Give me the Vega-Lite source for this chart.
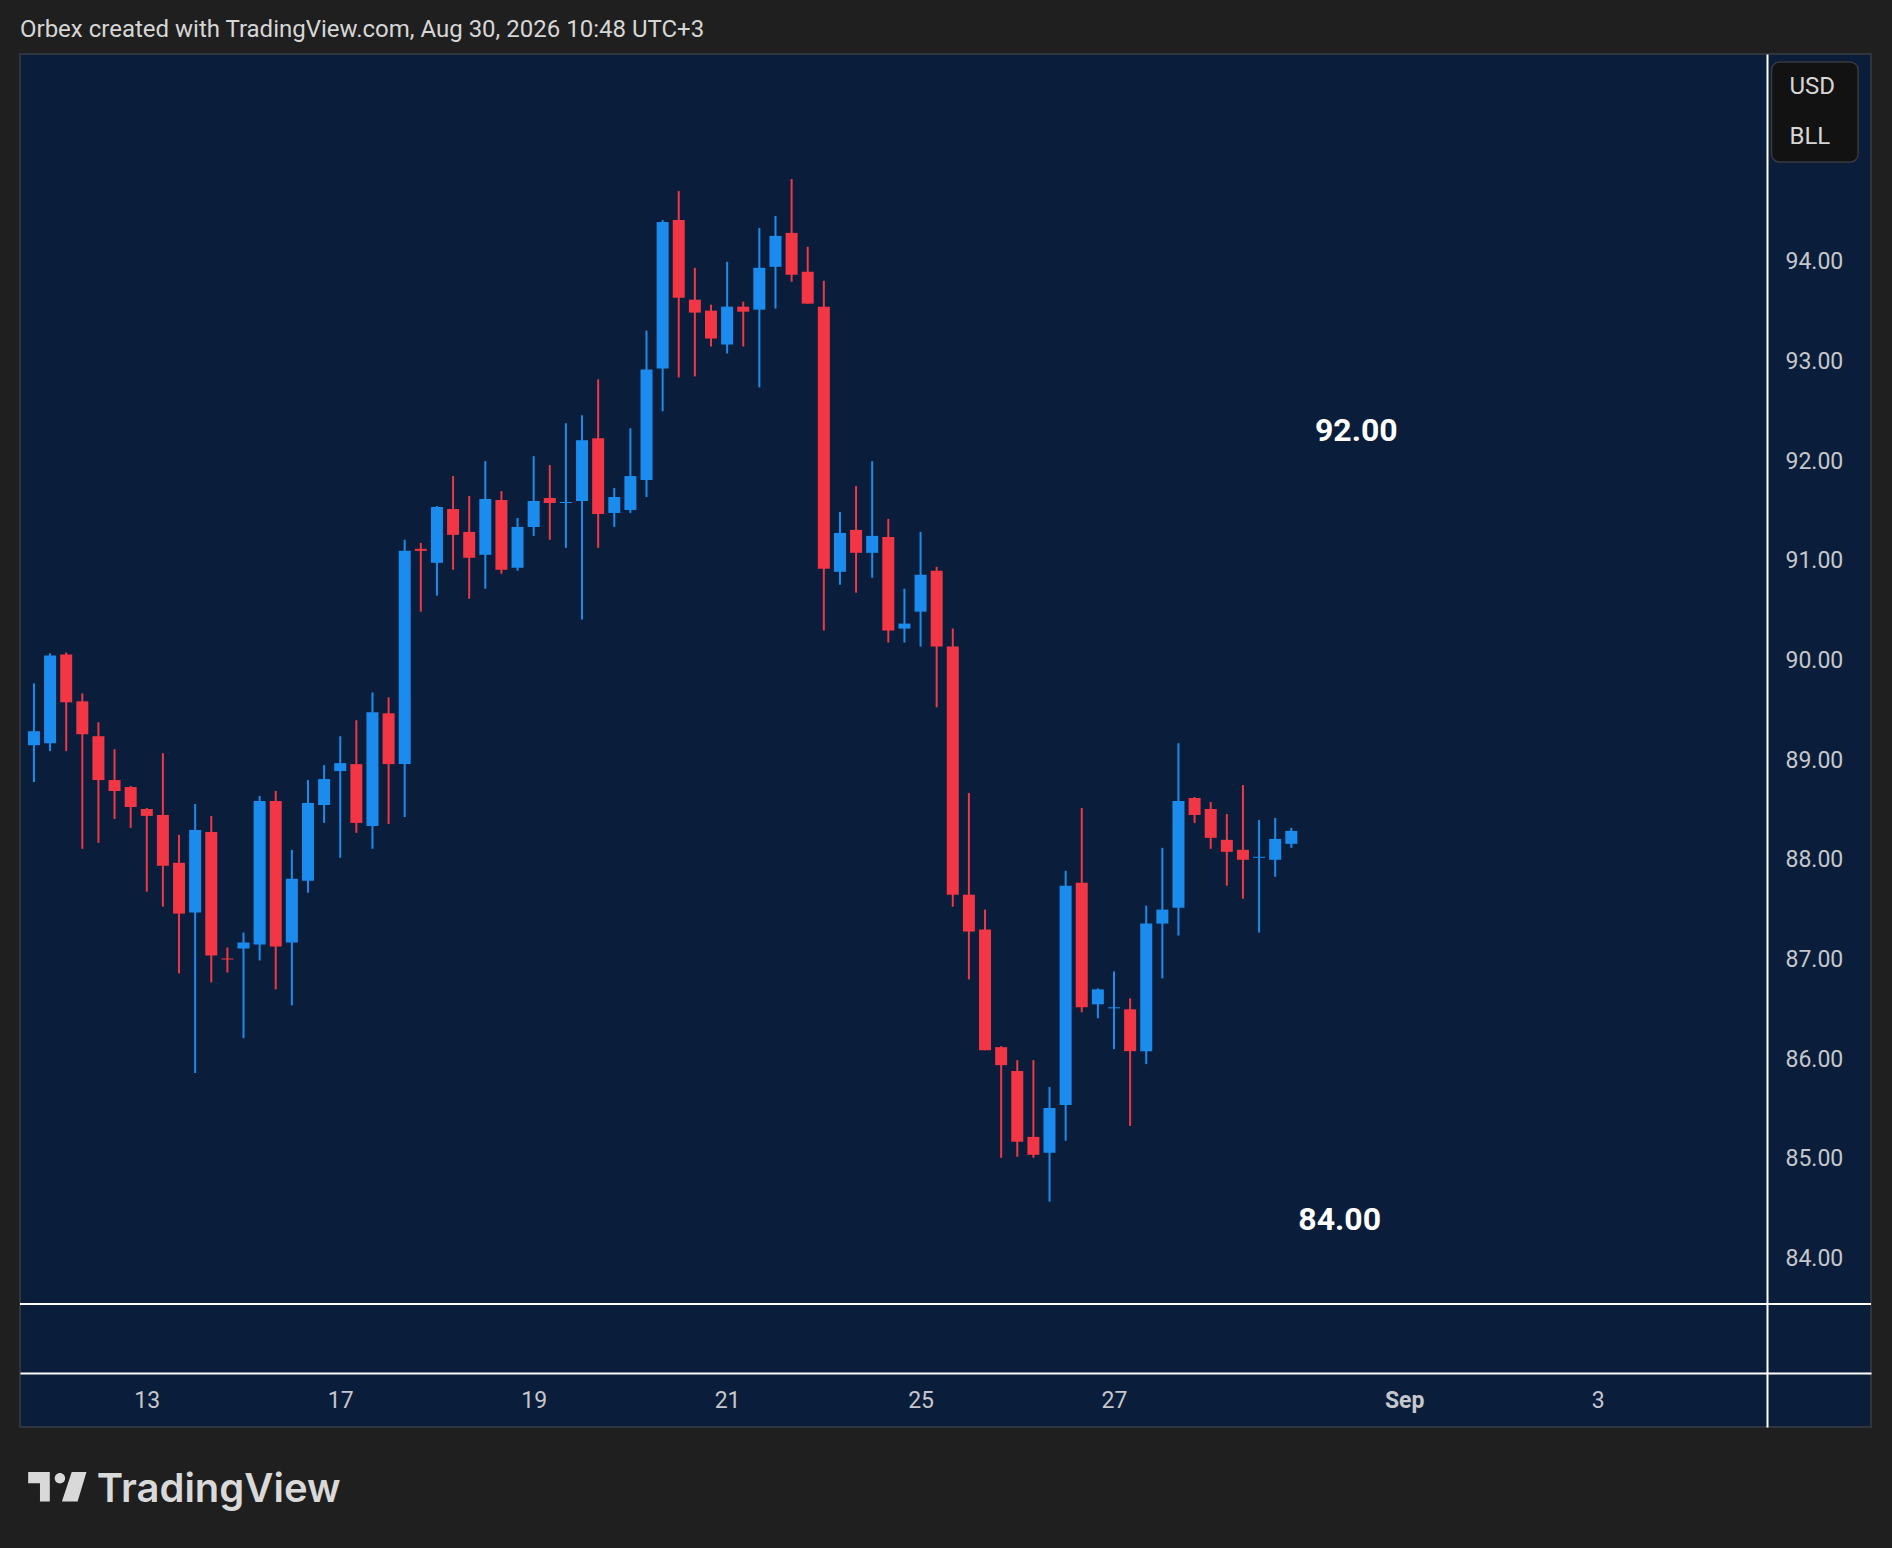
{
  "$schema": "https://vega.github.io/schema/vega-lite/v6.json",
  "autosize": "none",
  "width": 1851,
  "height": 1373,
  "padding": {"left": 20, "top": 54, "right": 21, "bottom": 121},
  "background": "#1f1f1f",
  "title": {
    "text": "Orbex created with TradingView.com, Aug 30, 2026 10:48 UTC+3",
    "anchor": "start",
    "frame": "group",
    "orient": "top",
    "baseline": "alphabetic",
    "offset": 15,
    "dy": 22,
    "font": "Roboto",
    "fontSize": 24,
    "fontWeight": "normal",
    "color": "#d6d6d6"
  },
  "config": {
    "view": {"fill": "#0a1e3b", "stroke": "#30343c", "strokeWidth": 2},
    "axis": {
      "grid": false,
      "ticks": false,
      "tickSize": 0,
      "domainColor": "#ffffff",
      "domainWidth": 2,
      "labelColor": "#c5c7cc",
      "labelFont": "Roboto",
      "labelFontSize": 23,
      "labelOverlap": false,
      "labelBound": false,
      "labelFlush": false
    }
  },
  "datasets": {
    "candles": [
      {"t":0,"open":89.15,"high":89.77,"low":88.78,"close":89.29},
      {"t":1,"open":89.17,"high":90.07,"low":89.09,"close":90.05},
      {"t":2,"open":90.06,"high":90.08,"low":89.09,"close":89.58},
      {"t":3,"open":89.59,"high":89.67,"low":88.11,"close":89.26},
      {"t":4,"open":89.24,"high":89.38,"low":88.17,"close":88.80},
      {"t":5,"open":88.80,"high":89.11,"low":88.41,"close":88.69},
      {"t":6,"open":88.73,"high":88.74,"low":88.32,"close":88.53},
      {"t":7,"open":88.51,"high":88.52,"low":87.68,"close":88.44},
      {"t":8,"open":88.45,"high":89.07,"low":87.53,"close":87.94},
      {"t":9,"open":87.97,"high":88.25,"low":86.86,"close":87.46},
      {"t":10,"open":87.47,"high":88.56,"low":85.86,"close":88.30},
      {"t":11,"open":88.28,"high":88.44,"low":86.77,"close":87.04},
      {"t":12,"open":87.01,"high":87.12,"low":86.87,"close":87.00},
      {"t":13,"open":87.11,"high":87.27,"low":86.21,"close":87.17},
      {"t":14,"open":87.15,"high":88.64,"low":86.99,"close":88.59},
      {"t":15,"open":88.59,"high":88.69,"low":86.70,"close":87.13},
      {"t":16,"open":87.17,"high":88.10,"low":86.54,"close":87.81},
      {"t":17,"open":87.79,"high":88.80,"low":87.67,"close":88.57},
      {"t":18,"open":88.55,"high":88.95,"low":88.37,"close":88.81},
      {"t":19,"open":88.89,"high":89.24,"low":88.02,"close":88.97},
      {"t":20,"open":88.96,"high":89.40,"low":88.27,"close":88.37},
      {"t":21,"open":88.34,"high":89.68,"low":88.11,"close":89.48},
      {"t":22,"open":89.47,"high":89.63,"low":88.36,"close":88.96},
      {"t":23,"open":88.96,"high":91.21,"low":88.43,"close":91.10},
      {"t":24,"open":91.12,"high":91.18,"low":90.49,"close":91.10},
      {"t":25,"open":90.98,"high":91.55,"low":90.65,"close":91.54},
      {"t":26,"open":91.52,"high":91.85,"low":90.91,"close":91.26},
      {"t":27,"open":91.29,"high":91.65,"low":90.62,"close":91.03},
      {"t":28,"open":91.06,"high":92.00,"low":90.72,"close":91.62},
      {"t":29,"open":91.61,"high":91.70,"low":90.87,"close":90.91},
      {"t":30,"open":90.93,"high":91.43,"low":90.90,"close":91.34},
      {"t":31,"open":91.34,"high":92.05,"low":91.25,"close":91.60},
      {"t":32,"open":91.63,"high":91.96,"low":91.21,"close":91.58},
      {"t":33,"open":91.58,"high":92.38,"low":91.13,"close":91.59},
      {"t":34,"open":91.60,"high":92.46,"low":90.41,"close":92.21},
      {"t":35,"open":92.23,"high":92.82,"low":91.13,"close":91.47},
      {"t":36,"open":91.48,"high":91.73,"low":91.34,"close":91.64},
      {"t":37,"open":91.51,"high":92.33,"low":91.48,"close":91.85},
      {"t":38,"open":91.81,"high":93.31,"low":91.64,"close":92.92},
      {"t":39,"open":92.93,"high":94.42,"low":92.50,"close":94.40},
      {"t":40,"open":94.42,"high":94.71,"low":92.84,"close":93.64},
      {"t":41,"open":93.62,"high":93.94,"low":92.85,"close":93.49},
      {"t":42,"open":93.51,"high":93.57,"low":93.15,"close":93.23},
      {"t":43,"open":93.17,"high":94.00,"low":93.08,"close":93.55},
      {"t":44,"open":93.55,"high":93.60,"low":93.15,"close":93.50},
      {"t":45,"open":93.52,"high":94.34,"low":92.74,"close":93.94},
      {"t":46,"open":93.95,"high":94.46,"low":93.53,"close":94.26},
      {"t":47,"open":94.29,"high":94.83,"low":93.80,"close":93.87},
      {"t":48,"open":93.90,"high":94.15,"low":93.58,"close":93.58},
      {"t":49,"open":93.55,"high":93.81,"low":90.30,"close":90.92},
      {"t":50,"open":90.89,"high":91.49,"low":90.76,"close":91.28},
      {"t":51,"open":91.31,"high":91.75,"low":90.68,"close":91.08},
      {"t":52,"open":91.08,"high":92.00,"low":90.83,"close":91.25},
      {"t":53,"open":91.24,"high":91.42,"low":90.18,"close":90.30},
      {"t":54,"open":90.32,"high":90.72,"low":90.18,"close":90.37},
      {"t":55,"open":90.49,"high":91.29,"low":90.14,"close":90.86},
      {"t":56,"open":90.90,"high":90.94,"low":89.53,"close":90.14},
      {"t":57,"open":90.14,"high":90.32,"low":87.53,"close":87.65},
      {"t":58,"open":87.65,"high":88.67,"low":86.80,"close":87.28},
      {"t":59,"open":87.30,"high":87.50,"low":86.09,"close":86.09},
      {"t":60,"open":86.12,"high":86.13,"low":85.01,"close":85.94},
      {"t":61,"open":85.88,"high":85.99,"low":85.02,"close":85.17},
      {"t":62,"open":85.22,"high":85.99,"low":85.01,"close":85.04},
      {"t":63,"open":85.06,"high":85.72,"low":84.57,"close":85.51},
      {"t":64,"open":85.54,"high":87.89,"low":85.18,"close":87.74},
      {"t":65,"open":87.77,"high":88.52,"low":86.47,"close":86.52},
      {"t":66,"open":86.55,"high":86.71,"low":86.41,"close":86.70},
      {"t":67,"open":86.51,"high":86.88,"low":86.10,"close":86.52},
      {"t":68,"open":86.50,"high":86.61,"low":85.33,"close":86.08},
      {"t":69,"open":86.08,"high":87.54,"low":85.95,"close":87.36},
      {"t":70,"open":87.36,"high":88.12,"low":86.81,"close":87.50},
      {"t":71,"open":87.52,"high":89.17,"low":87.24,"close":88.59},
      {"t":72,"open":88.62,"high":88.63,"low":88.37,"close":88.45},
      {"t":73,"open":88.51,"high":88.58,"low":88.11,"close":88.22},
      {"t":74,"open":88.20,"high":88.46,"low":87.74,"close":88.08},
      {"t":75,"open":88.10,"high":88.75,"low":87.61,"close":88.00},
      {"t":76,"open":88.02,"high":88.40,"low":87.27,"close":88.03},
      {"t":77,"open":88.00,"high":88.42,"low":87.83,"close":88.21},
      {"t":78,"open":88.16,"high":88.32,"low":88.12,"close":88.29}
    ],
    "notes": [
      {"label": "92.00", "t": 82.03, "price": 92.30},
      {"label": "84.00", "t": 81.0, "price": 84.39}
    ]
  },
  "layer": [
    {
      "data": {"name": "candles"},
      "mark": {"type": "rule", "strokeWidth": 2},
      "encoding": {
        "x": {
          "field": "t", "type": "quantitative", "title": null,
          "scale": {"domain": [-0.555, 113.65], "nice": false, "zero": false},
          "axis": {
            "orient": "bottom", "offset": -54,
            "values": [7, 19, 31, 43, 55, 67, 85, 97],
            "labelExpr": "datum.value == 7 ? '13' : datum.value == 19 ? '17' : datum.value == 31 ? '19' : datum.value == 43 ? '21' : datum.value == 55 ? '25' : datum.value == 67 ? '27' : datum.value == 85 ? 'Sep' : '3'",
            "labelPadding": 27,
            "labelBaseline": "middle",
            "labelAlign": "center",
            "labelFontWeight": {"condition": {"test": "datum.value == 85", "value": "bold"}, "value": "normal"}
          }
        },
        "y": {
          "field": "low", "type": "quantitative", "title": null,
          "scale": {"domain": [82.309, 96.085], "nice": false, "zero": false},
          "axis": {
            "orient": "right", "offset": -104,
            "values": [84, 85, 86, 87, 88, 89, 90, 91, 92, 93, 94],
            "format": ".2f",
            "labelPadding": 18,
            "labelAlign": "left",
            "labelBaseline": "middle"
          }
        },
        "y2": {"field": "high"},
        "color": {"condition": {"test": "datum.close > datum.open", "value": "#1b8cee"}, "value": "#f23645"}
      }
    },
    {
      "data": {"name": "candles"},
      "mark": {"type": "bar", "width": 12},
      "encoding": {
        "x": {"field": "t", "type": "quantitative", "title": null},
        "y": {"field": "open", "type": "quantitative", "title": null},
        "y2": {"field": "close"},
        "color": {"condition": {"test": "datum.close > datum.open", "value": "#1b8cee"}, "value": "#f23645"}
      }
    },
    {
      "data": {"values": [{}]},
      "mark": {"type": "rule", "color": "#ffffff", "strokeWidth": 2},
      "encoding": {
        "y": {"datum": 83.543, "type": "quantitative", "title": null}
      }
    },
    {
      "data": {"name": "notes"},
      "mark": {"type": "text", "font": "Roboto", "fontSize": 32, "fontWeight": "bold", "color": "#ffffff", "align": "center", "baseline": "middle"},
      "encoding": {
        "x": {"field": "t", "type": "quantitative", "title": null},
        "y": {"field": "price", "type": "quantitative", "title": null},
        "text": {"field": "label"}
      }
    },
    {
      "data": {"values": [{}]},
      "mark": {"type": "rect", "fill": "#121212", "stroke": "#3a3a3a", "strokeWidth": 1.5, "cornerRadius": 8},
      "encoding": {
        "x": {"datum": 107.79, "type": "quantitative", "title": null},
        "x2": {"datum": 113.16},
        "y": {"datum": 96.005, "type": "quantitative", "title": null},
        "y2": {"datum": 95.001}
      }
    },
    {
      "data": {"values": [{}]},
      "mark": {"type": "text", "text": "USD", "font": "Roboto", "fontSize": 24, "color": "#d6d6d6", "align": "left", "baseline": "middle"},
      "encoding": {
        "x": {"datum": 108.9, "type": "quantitative", "title": null},
        "y": {"datum": 95.758, "type": "quantitative", "title": null}
      }
    },
    {
      "data": {"values": [{}]},
      "mark": {"type": "text", "text": "BLL", "font": "Roboto", "fontSize": 24, "color": "#d6d6d6", "align": "left", "baseline": "middle"},
      "encoding": {
        "x": {"datum": 108.9, "type": "quantitative", "title": null},
        "y": {"datum": 95.255, "type": "quantitative", "title": null}
      }
    },
    {
      "data": {"values": [{}]},
      "mark": {
        "type": "point",
        "shape": "M-1,-0.506L-0.258,-0.506L-0.258,0.506L-0.595,0.506L-0.595,-0.115L-1,-0.115Z M-0.09,-0.293A0.179,0.179 0 1,0 0.268,-0.293A0.179,0.179 0 1,0 -0.09,-0.293Z M0.494,-0.506L1,-0.506L0.696,0.506L0.157,0.506Z",
        "size": 3400,
        "filled": true,
        "color": "#d9d9d9",
        "opacity": 1,
        "strokeWidth": 0
      },
      "encoding": {
        "x": {"datum": 1.45, "type": "quantitative", "title": null},
        "y": {"datum": 81.71, "type": "quantitative", "title": null}
      }
    },
    {
      "data": {"values": [{}]},
      "mark": {"type": "text", "text": "TradingView", "font": "Inter", "fontSize": 40, "fontWeight": 600, "color": "#d9d9d9", "align": "left", "baseline": "alphabetic"},
      "encoding": {
        "x": {"datum": 3.9, "type": "quantitative", "title": null},
        "y": {"datum": 81.56, "type": "quantitative", "title": null}
      }
    }
  ]
}
